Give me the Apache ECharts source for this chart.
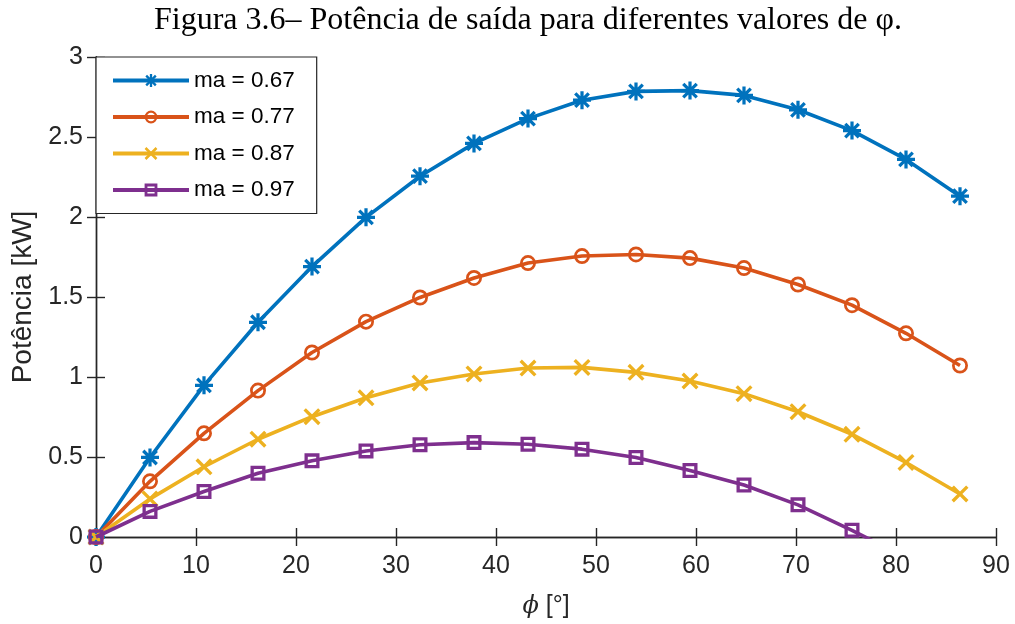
<!DOCTYPE html>
<html>
<head>
<meta charset="utf-8">
<script src="https://cdn.jsdelivr.net/npm/echarts@6/dist/echarts.min.js"></script>
<style>html,body{margin:0;padding:0;background:#fff}#c{width:1015px;height:624px}</style>
</head>
<body>
<div id="c"></div>
<script>
const phi = [0, 5.4, 10.8, 16.2, 21.6, 27, 32.4, 37.8, 43.2, 48.6, 54, 59.4, 64.8, 70.2, 75.6, 81, 86.4];
const ma067 = [0, 0.497, 0.948, 1.342, 1.69, 1.998, 2.255, 2.46, 2.615, 2.73, 2.785, 2.79, 2.76, 2.67, 2.54, 2.36, 2.13];
const ma077 = [0, 0.348, 0.648, 0.915, 1.153, 1.346, 1.497, 1.619, 1.712, 1.756, 1.766, 1.743, 1.681, 1.578, 1.449, 1.273, 1.072];
const ma087 = [0, 0.238, 0.439, 0.611, 0.752, 0.87, 0.963, 1.019, 1.056, 1.06, 1.029, 0.975, 0.896, 0.783, 0.642, 0.466, 0.269];
const ma097 = [0, 0.16, 0.284, 0.398, 0.476, 0.538, 0.577, 0.59, 0.58, 0.549, 0.497, 0.416, 0.325, 0.201, 0.042, -0.13, -0.34];
const seriesNames = ['ma = 0.67', 'ma = 0.77', 'ma = 0.87', 'ma = 0.97'];
const seriesValues = [ma067, ma077, ma087, ma097];
const colors = ['#0072BD', '#D95319', '#EDB120', '#7E2F8E'];

const asterisk = 'path://M41 0L59 0L59 100L41 100Z M0 41L100 41L100 59L0 59Z M19 6L94 81L81 94L6 19Z M81 6L94 19L19 94L6 81Z';
const cross = 'path://M14 0L100 86L86 100L0 14Z M86 0L100 14L14 100L0 86Z';
const ring = 'path://M50 0A50 50 0 1 1 50 100A50 50 0 1 1 50 0Z M50 17A33 33 0 1 0 50 83A33 33 0 1 0 50 17Z';
const squareRing = 'path://M0 0L100 0L100 100L0 100Z M22 22L22 78L78 78L78 22Z';
const symbols = [asterisk, ring, cross, squareRing];
const symbolSizes = [18, 16, 17, 15];

const axisColor = '#262626';
const chart = echarts.init(document.getElementById('c'));
const option = {
  animation: false,
  backgroundColor: '#fff',
  title: {
    text: 'Figura 3.6– Potência de saída para diferentes valores de φ.',
    left: 523, top: 0, textAlign: 'center',
    textStyle: {fontFamily: 'Liberation Serif', fontSize: 32, fontWeight: 'normal', color: '#000'}
  },
  grid: {left: 96, right: 19, top: 57, bottom: 84, containLabel: false},
  legend: {
    left: 96, top: 57, orient: 'vertical',
    itemWidth: 76, itemHeight: 16, itemGap: 13.5,
    padding: [12, 22, 12, 15],
    backgroundColor: '#fff', borderColor: axisColor, borderWidth: 1.2,
    lineStyle: {width: 4},
    textStyle: {fontFamily: 'Liberation Sans', fontSize: 22.5, color: '#000', lineHeight: 20},
    data: seriesNames
  },
  xAxis: [{
    type: 'value', min: 0, max: 90, interval: 10,
    name: '{i|ϕ} [°]', nameLocation: 'middle', nameGap: 57,
    nameTextStyle: {fontFamily: 'Liberation Sans', fontSize: 25, color: axisColor,
      rich: {i: {fontFamily: 'DejaVu Serif', fontStyle: 'italic', fontSize: 24, color: axisColor}}},
    axisLine: {lineStyle: {color: axisColor, width: 1.4}},
    axisTick: {inside: true, length: 9, lineStyle: {color: axisColor, width: 1.4}},
    axisLabel: {fontFamily: 'Liberation Sans', fontSize: 25, color: axisColor, margin: 17},
    splitLine: {show: false}
  }, {
    type: 'value', min: 0, max: 90, interval: 10, position: 'top',
    axisLine: {lineStyle: {color: axisColor, width: 1.4}},
    axisTick: {inside: true, length: 9, lineStyle: {color: axisColor, width: 1.4}},
    axisLabel: {show: false}, splitLine: {show: false}
  }],
  yAxis: [{
    type: 'value', min: 0, max: 3, interval: 0.5,
    name: 'Potência [kW]', nameLocation: 'middle', nameGap: 40,
    nameTextStyle: {fontFamily: 'Liberation Sans', fontSize: 28, color: axisColor},
    axisLine: {show: true, lineStyle: {color: axisColor, width: 1.4}},
    axisTick: {show: true, inside: true, length: 9, lineStyle: {color: axisColor, width: 1.4}},
    axisLabel: {fontFamily: 'Liberation Sans', fontSize: 25, color: axisColor, margin: 13},
    splitLine: {show: false}
  }, {
    type: 'value', min: 0, max: 3, interval: 0.5, position: 'right',
    axisLine: {show: true, lineStyle: {color: axisColor, width: 1.4}},
    axisTick: {show: true, inside: true, length: 9, lineStyle: {color: axisColor, width: 1.4}},
    axisLabel: {show: false}, splitLine: {show: false}
  }],
  series: seriesNames.map((name, k) => ({
    name: name,
    type: 'line',
    xAxisIndex: 0, yAxisIndex: 0,
    data: phi.map((x, i) => [x, seriesValues[k][i]]),
    clip: true,
    symbol: symbols[k],
    symbolSize: symbolSizes[k],
    showAllSymbol: true,
    lineStyle: {color: colors[k], width: 3.6},
    itemStyle: {color: colors[k], borderWidth: 0},
    emphasis: {disabled: true},
    z: 2 + k
  }))
};
chart.setOption(option);
</script>
</body>
</html>
